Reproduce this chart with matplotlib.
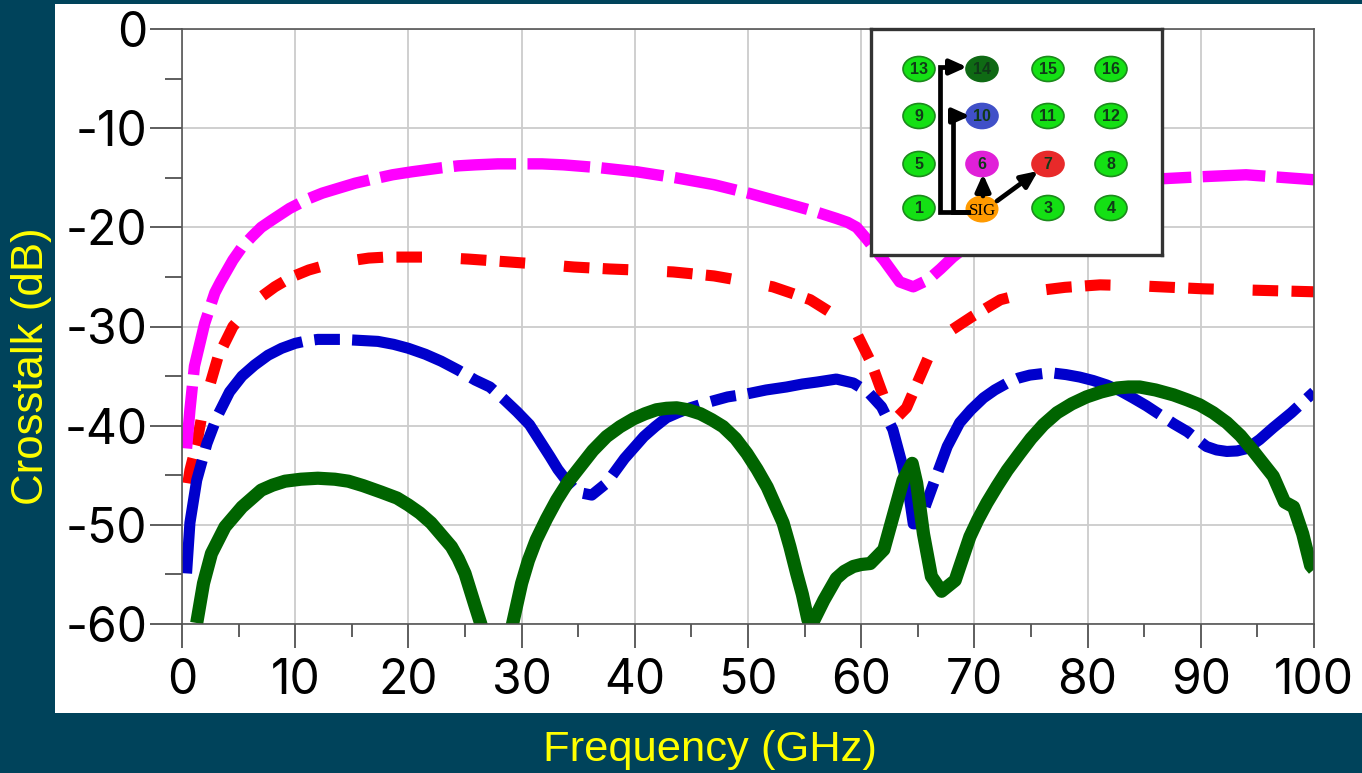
import matplotlib
matplotlib.use("Agg")
import matplotlib.pyplot as plt
from matplotlib.patches import Ellipse

# ── data ──────────────────────────────────────────────
pink_x = [0.4, 0.7, 1.1, 2, 2.9, 3.4, 3.9, 4.5, 5.3, 6.2, 7, 7.9, 9.5, 11.2, 12.4, 13.7, 15.3, 17, 18.6, 20.3, 22.9, 24.4, 25.9, 27.9, 29.9, 31.8, 33.7, 37, 40.2, 43.6, 47, 50.2, 53.4, 55.6, 57.8, 58.8, 59.6, 60.5, 61.2, 62, 62.7, 63.4, 64.6, 65.9, 67, 68.1, 72, 76, 80, 84, 86.6, 90, 94, 100]
pink_y = [-42.3, -38.4, -34, -29.7, -26.6, -25.5, -24.5, -23.3, -22, -20.9, -20, -19.3, -18.1, -17.1, -16.55, -16.1, -15.55, -15.1, -14.7, -14.4, -14, -13.8, -13.7, -13.6, -13.6, -13.6, -13.7, -14, -14.4, -15, -15.7, -16.6, -17.6, -18.3, -19.1, -19.5, -20, -21.2, -22.2, -23.3, -24.4, -25.5, -26, -25.3, -24.2, -23, -19.5, -17.4, -16, -15.3, -15.1, -14.9, -14.7, -15.2]

red_x = [0.1, 0.7, 1.3, 1.9, 3.2, 4.5, 6, 7, 8.2, 9.7, 11.2, 12.6, 14.1, 16.5, 18, 20, 22, 25.3, 29, 32, 34.6, 37.8, 40, 43.4, 47, 50, 52.2, 54, 55.5, 57.6, 59.6, 60.9, 62.5, 62.7, 64, 65.9, 66.8, 67.8, 69.8, 72.3, 74, 75.5, 78, 81.1, 84.6, 90.2, 93.5, 100]
red_y = [-48.8, -44.5, -41.8, -38.1, -33, -30, -28, -27, -26, -25, -24.3, -23.85, -23.5, -23.1, -23, -23, -23, -23.2, -23.5, -23.75, -24, -24.2, -24.3, -24.5, -24.9, -25.5, -26, -26.7, -27.3, -28.8, -30.7, -33.7, -38.7, -39.7, -38.2, -33.2, -31.7, -30.5, -29, -27.3, -26.8, -26.4, -26.05, -25.8, -25.9, -26.2, -26.3, -26.5]

blue_x = [0.4, 0.7, 1.3, 2.2, 3.1, 4.2, 5.3, 6.4, 7.6, 8.8, 10, 11, 12, 14.1, 15.7, 17.3, 18.7, 20, 21.5, 22.9, 24.4, 25.9, 27.2, 28.4, 29.6, 30.7, 31.6, 32.5, 33.2, 34, 34.9, 36.2, 37.5, 39.1, 40.8, 41.8, 42.8, 43.8, 44.9, 46.6, 48.2, 49.9, 51.6, 53.4, 54.8, 56.1, 57.8, 59.3, 60.6, 61.8, 62.8, 63.6, 64.2, 64.6, 65.2, 65.7, 66.5, 67.6, 68.7, 69.7, 70.8, 71.8, 72.9, 73.9, 74.9, 76, 77, 78.1, 79.3, 80.5, 81.7, 82.9, 84, 85.2, 86.4, 87.6, 88.8, 89.7, 90.5, 91.4, 92.3, 93.2, 94.1, 95.2, 96.4, 98, 100]
blue_y = [-54.9, -49.8, -45.5, -41.8, -39.1, -36.6, -35, -33.9, -32.9, -32.2, -31.7, -31.45, -31.3, -31.3, -31.4, -31.5, -31.8, -32.2, -32.8, -33.5, -34.4, -35.4, -36.1, -37.3, -38.6, -39.9, -41.5, -43.1, -44.4, -45.6, -46.7, -47, -45.8, -43.3, -41.1, -40.1, -39.2, -38.7, -38.2, -37.6, -37.1, -36.8, -36.4, -36.1, -35.8, -35.6, -35.3, -35.7, -36.6, -38.1, -40.4, -43.8, -46.8, -49.9, -49.9, -48, -45.5, -42.1, -39.7, -38.4, -37.2, -36.4, -35.7, -35.2, -34.9, -34.75, -34.7, -34.85, -35.1, -35.45, -35.9, -36.5, -37.2, -38, -38.9, -39.8, -40.6, -41.4, -42.1, -42.45, -42.6, -42.55, -42.3, -41.4, -40.2, -38.7, -36.6]

green_x = [1.3, 1.9, 2.6, 3.8, 5.3, 7, 8, 9.1, 10.5, 12, 13.5, 14.7, 16, 17.6, 19, 20, 21, 22, 23.8, 24.4, 25, 25.9, 26.4, 27.8, 29.2, 30, 30.6, 31.3, 32.2, 33.1, 34.1, 35.2, 36.3, 37.5, 38.7, 39.9, 40.9, 41.9, 42.8, 43.7, 44.7, 45.8, 46.8, 47.8, 48.9, 49.9, 50.8, 51.7, 52.4, 53.1, 53.7, 54.3, 54.8, 55.3, 55.7, 56.7, 57.8, 58.5, 59.3, 60, 60.8, 62, 62.8, 63.7, 64.5, 64.9, 65.5, 66.2, 67.1, 68.3, 69.6, 70.3, 71.1, 72, 72.9, 74, 75, 76.1, 77.3, 78.6, 79.9, 81.2, 82.6, 83.6, 84.6, 86, 87.6, 88.8, 89.9, 91.1, 92.3, 93.5, 94.6, 95.5, 96.4, 97.4, 98.2, 99, 99.7, 100]
green_y = [-59.9, -55.9, -52.9, -50.2, -48.2, -46.5, -46, -45.6, -45.4, -45.3, -45.4, -45.6, -46.05, -46.7, -47.3, -48, -48.8, -49.8, -52.2, -53.4, -54.9, -58.2, -60, -70, -60, -55.9, -53.6, -51.5, -49.4, -47.5, -45.7, -44.1, -42.5, -41.1, -40.1, -39.3, -38.8, -38.4, -38.25, -38.2, -38.4, -38.8, -39.4, -40.1, -41.3, -42.8, -44.4, -46.2, -48, -49.8, -52.2, -54.9, -57, -59.6, -59.9, -57.6, -55.4, -54.7, -54.2, -54, -53.9, -52.5, -49.2, -45.5, -43.8, -45.8, -50.9, -55.2, -56.7, -55.6, -51.2, -49.5, -47.8, -46.1, -44.5, -42.8, -41.3, -39.9, -38.7, -37.8, -37.1, -36.6, -36.2, -36.1, -36.1, -36.4, -36.9, -37.4, -37.9, -38.7, -39.7, -41, -42.5, -43.8, -45.1, -47.7, -48.2, -50.9, -54.1, -54.5]

x_ticks = list(range(0, 101, 10))
y_ticks = list(range(0, -61, -10))

node_x = [919, 982, 1048, 1111]
node_y = [208, 164, 116, 69]
node_labels = [["1", "SIG", "3", "4"], ["5", "6", "7", "8"], ["9", "10", "11", "12"], ["13", "14", "15", "16"]]
node_colors = {"SIG": "#FF9A00", "6": "#E020D8", "7": "#E82A2A", "10": "#4050C8", "14": "#0F6A14"}

W, H = 1362, 773
BG = "#00435B"
YEL = "#FFFF00"
plt.rcParams["font.family"] = "Liberation Sans"
plt.rcParams["axes.unicode_minus"] = False


def fx(px):
    return px / W


def fy(py):
    return 1 - py / H


fig = plt.figure(figsize=(W / 100, H / 100), dpi=100, facecolor=BG)

# white panel behind the plot
panel = fig.add_axes([fx(55), fy(713), fx(1362 - 55), (713 - 4) / H])
panel.set_facecolor("white")
panel.set_xticks([])
panel.set_yticks([])
for s in panel.spines.values():
    s.set_visible(False)

ax = fig.add_axes([fx(182), fy(624), (1314 - 182) / W, (624 - 29) / H], facecolor="white")
ax.set_xlim(0, 100)
ax.set_ylim(-60, 0)
ax.set_xticks(x_ticks)
ax.set_yticks(y_ticks)
ax.set_xticks(range(5, 100, 10), minor=True)
ax.set_yticks(range(-55, 0, 10), minor=True)
ax.grid(True, which="major", color="#CCCCCC", lw=1.3)
ax.set_axisbelow(True)
ax.tick_params(axis="x", which="major", length=17.3, width=1.1, color="#333333", labelsize=34.5, pad=7)
ax.tick_params(axis="y", which="major", length=23, width=1.1, color="#333333", labelsize=34.5, pad=2)
ax.tick_params(axis="x", which="minor", length=9.4, width=1.1, color="#333333")
ax.tick_params(axis="y", which="minor", length=12, width=1.1, color="#333333")
for lab in ax.get_xticklabels() + ax.get_yticklabels():
    lab.set_family("Inter")
for s in ax.spines.values():
    s.set_color("#555555")
    s.set_linewidth(1.2)

ax.plot(red_x, red_y, color="#FF0000", lw=8, linestyle=(6.6, (2.3, 1.2, 2.3, 3.5)), dash_capstyle="butt")
ax.plot(pink_x, pink_y, color="#FF00FF", lw=8.2, dashes=(5.5, 1.0), dash_capstyle="butt")
ax.plot(blue_x, blue_y, color="#0000CC", lw=8, dashes=(10.3, 1.1, 2.3, 1.1), dash_capstyle="butt")
ax.plot(green_x, green_y, color="#006400", lw=9.5, solid_capstyle="butt", solid_joinstyle="round")

fig.text(fx(32), fy(366), "Crosstalk (dB)", color=YEL, fontsize=31.5, rotation=90, ha="center", va="center")
fig.text(fx(710), fy(750), "Frequency (GHz)", color=YEL, fontsize=31.3, ha="center", va="center")

# inset with the pin map
ins = fig.add_axes([fx(871), fy(255), (1162 - 871) / W, (255 - 29) / H], facecolor="white", zorder=5)
ins.set_xlim(871, 1162)
ins.set_ylim(255, 29)
ins.set_xticks([])
ins.set_yticks([])
for s in ins.spines.values():
    s.set_color("#333333")
    s.set_linewidth(2.4)

for r, py in enumerate(node_y):
    for c, px in enumerate(node_x):
        lab = node_labels[r][c]
        col = node_colors.get(lab, "#14E014")
        if lab == "SIG":
            ins.add_patch(Ellipse((px, py + 1), 33, 27, fc=col, ec="none", zorder=2))
            ins.text(px + 1, py + 3, lab, fontsize=12.2, family="Liberation Serif", ha="center", va="center", color="black", zorder=4)
        else:
            edge = "#1C8A1C" if col == "#14E014" else col
            ins.add_patch(Ellipse((px, py), 32, 25, fc=col, ec=edge, lw=1.2, zorder=2))
            ins.text(px, py + 0.5, lab, fontsize=11.5, ha="center", va="center", color="#103A18", fontweight="bold", zorder=4)

arrow = dict(arrowstyle="-|>,head_width=0.45,head_length=1.0", color="black", lw=3.4, shrinkA=0, shrinkB=0)
ins.plot([968, 940, 940, 955], [212, 212, 67, 67], color="black", lw=3.4, solid_joinstyle="miter", zorder=3)
ins.plot([968, 953, 953, 958], [212, 212, 116, 116], color="black", lw=3.4, solid_joinstyle="miter", zorder=3)
ins.annotate("", xy=(967, 67), xytext=(950, 67), arrowprops=arrow, zorder=3)
ins.annotate("", xy=(970, 116), xytext=(955, 116), arrowprops=arrow, zorder=3)
ins.annotate("", xy=(983, 174), xytext=(983, 196), arrowprops=arrow, zorder=3)
ins.annotate("", xy=(1038, 171), xytext=(997, 201), arrowprops=arrow, zorder=3)

fig.savefig("out.png", dpi=100, facecolor=BG)
